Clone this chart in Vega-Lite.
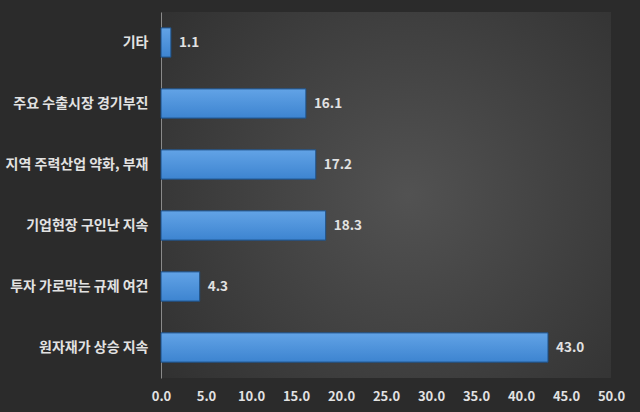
{
  "$schema": "https://vega.github.io/schema/vega-lite/v6.json",
  "width": 450,
  "height": 366,
  "autosize": {"type": "none"},
  "padding": {"left": 161, "top": 12, "right": 29, "bottom": 34},
  "background": "#2b2b2b",
  "config": {
    "view": {
      "stroke": null,
      "fill": {
        "gradient": "radial",
        "x1": 0.55, "y1": 0.5, "r1": 0,
        "x2": 0.55, "y2": 0.5, "r2": 0.72,
        "stops": [
          {"offset": 0, "color": "#525252"},
          {"offset": 1, "color": "#2f2f2f"}
        ]
      }
    },
    "font": "Noto Sans CJK KR"
  },
  "data": {
    "values": [
      {"category": "기타", "value": 1.1},
      {"category": "주요 수출시장 경기부진", "value": 16.1},
      {"category": "지역 주력산업 약화, 부재", "value": 17.2},
      {"category": "기업현장 구인난 지속", "value": 18.3},
      {"category": "투자 가로막는 규제 여건", "value": 4.3},
      {"category": "원자재가 상승 지속", "value": 43.0}
    ]
  },
  "encoding": {
    "y": {
      "field": "category",
      "type": "nominal",
      "sort": null,
      "scale": {"paddingInner": 0.52, "paddingOuter": 0.26},
      "axis": {
        "title": null,
        "ticks": false,
        "domainColor": "#8a8a8a",
        "domainWidth": 1,
        "labelColor": "#e2e2e2",
        "labelFontSize": 14,
        "labelFontWeight": "bold",
        "labelPadding": 13,
        "labelLimit": 200
      }
    },
    "x": {
      "field": "value",
      "type": "quantitative",
      "scale": {"domain": [0, 50], "nice": false},
      "axis": {
        "title": null,
        "values": [0, 5, 10, 15, 20, 25, 30, 35, 40, 45, 50],
        "format": ".1f",
        "grid": false,
        "ticks": false,
        "domain": false,
        "labelColor": "#e2e2e2",
        "labelFontSize": 13,
        "labelFontWeight": "bold",
        "labelPadding": 12,
        "labelFlush": false
      }
    }
  },
  "layer": [
    {
      "mark": {
        "type": "bar",
        "stroke": "#1d4f85",
        "strokeWidth": 1,
        "color": {
          "gradient": "linear",
          "x1": 0, "y1": 0, "x2": 0, "y2": 1,
          "stops": [
            {"offset": 0, "color": "#62a3e6"},
            {"offset": 1, "color": "#3d84d0"}
          ]
        }
      }
    },
    {
      "mark": {
        "type": "text",
        "align": "left",
        "baseline": "middle",
        "dx": 8,
        "fontSize": 13.5,
        "fontWeight": "bold",
        "color": "#e2e2e2"
      },
      "encoding": {
        "text": {"field": "value", "type": "quantitative", "format": ".1f"}
      }
    }
  ]
}
